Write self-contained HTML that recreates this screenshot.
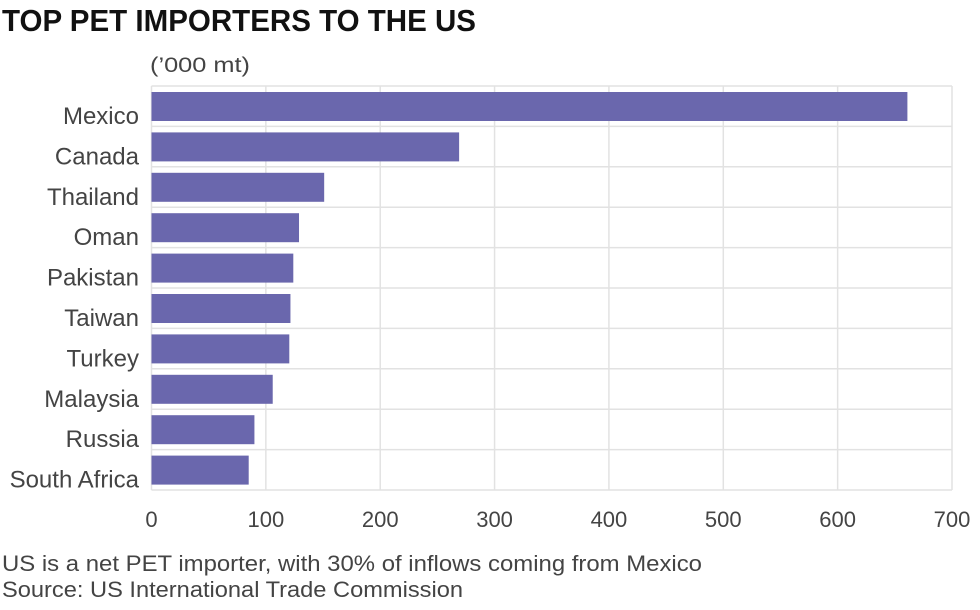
<!DOCTYPE html>
<html><head><meta charset="utf-8"><style>
body{margin:0;background:#fff;width:980px;height:605px;overflow:hidden;font-family:"Liberation Sans",sans-serif}
</style></head><body>
<svg width="980" height="605" id="c">
<text x="2" y="31" font-size="31" font-weight="bold" fill="#111" textLength="474" lengthAdjust="spacingAndGlyphs">TOP PET IMPORTERS TO THE US</text>
<text x="150" y="72" font-size="21" fill="#444" textLength="100" lengthAdjust="spacingAndGlyphs">(’000 mt)</text>
<g id="grid"></g><g id="bars"></g><g id="labels"></g><g id="ticks"></g>
<text x="2" y="571" font-size="22" fill="#444" textLength="700" lengthAdjust="spacingAndGlyphs">US is a net PET importer, with 30% of inflows coming from Mexico</text>
<text x="2" y="597" font-size="22" fill="#444" textLength="461" lengthAdjust="spacingAndGlyphs">Source: US International Trade Commission</text>
</svg>
<script>
const categories=["Mexico","Canada","Thailand","Oman","Pakistan","Taiwan","Turkey","Malaysia","Russia","South Africa"];
const values=[661,269,151,129,124,121.5,120.5,106,90,85];
const tickValues=[0,100,200,300,400,500,600,700];
const NS="http://www.w3.org/2000/svg";
const x0=151.5,x1=952,yTop=86,yBot=490,vmax=700;
const xs=v=>x0+(x1-x0)*v/vmax;
const band=(yBot-yTop)/categories.length;
function mk(t,a,p){const e=document.createElementNS(NS,t);for(const k in a)e.setAttribute(k,a[k]);p.appendChild(e);return e;}
const g=document.getElementById('grid'),b=document.getElementById('bars'),l=document.getElementById('labels'),tk=document.getElementById('ticks');
tickValues.forEach(v=>{
 const ln=mk('line',{x1:xs(v),x2:xs(v),y1:yTop,y2:yBot,stroke:'#e2e2e2','stroke-width':1.5},g);
 
 
 const t=mk('text',{x:xs(v),y:527,'text-anchor':'middle','font-size':22,fill:'#444'},tk);
 t.textContent=v;
 
 
});
for(let i=0;i<=categories.length;i++){
 const ln=mk('line',{x1:x0,x2:x1,y1:yTop+i*band,y2:yTop+i*band,stroke:'#e2e2e2','stroke-width':1.5},g);
 
 
}
categories.forEach((c,i)=>{
 const y=yTop+i*band;
 const r=mk('rect',{x:x0,y:y+6,width:xs(values[i])-x0,height:29,fill:'#6a67ad'},b);
 
 
 const t=mk('text',{x:139,y:y+38,'text-anchor':'end','font-size':24,fill:'#444'},l);
 t.textContent=c;
 
 
});
</script>
</body></html>
